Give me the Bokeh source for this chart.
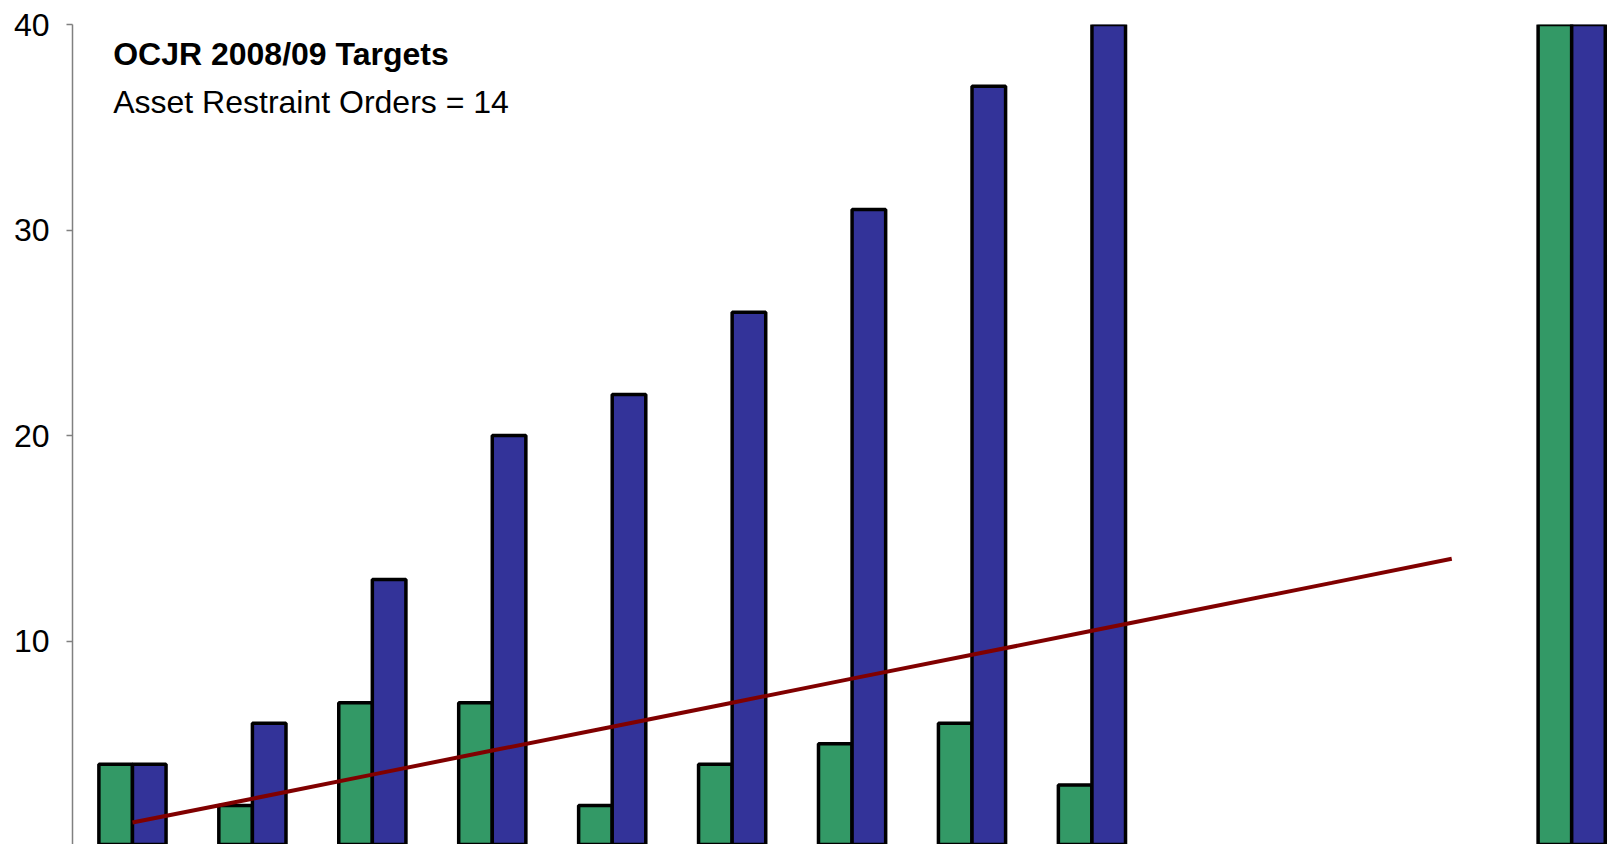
import math
from bokeh.plotting import figure
from bokeh.models import Range1d, Label, FixedTicker, ColumnDataSource
from bokeh.transform import dodge
from bokeh.core.properties import value
from bokeh.embed import file_html
from bokeh.resources import INLINE

# ---- data ----
categories = ["Apr", "May", "Jun", "Jul", "Aug", "Sep", "Oct", "Nov", "Dec",
              "Jan", "Feb", "Mar", "Total"]
monthly_orders = [4, 2, 7, 7, 2, 4, 5, 6, 3, None, None, None, 40]
cumulative_orders = [4, 6, 13, 20, 22, 26, 31, 37, 40, None, None, None, 40]
target_line = [1.17, 2.33, 3.5, 4.67, 5.83, 7.0, 8.17, 9.33, 10.5, 11.67, 12.83, 14.0, None]
y_ticks = [0, 10, 20, 30, 40]
title_text = "OCJR 2008/09 Targets"
subtitle_text = "Asset Restraint Orders = 14"

FONT = "Liberation Sans"
FSIZE = "32px"
GREEN = "#339966"
BLUE = "#333399"
RED = "#800000"

def nan(v):
    return float("nan") if v is None else v

xs = [i + 0.5 for i in range(len(categories))]
bar_src = ColumnDataSource(dict(
    x=xs,
    cat=categories,
    monthly=[nan(v) for v in monthly_orders],
    cumulative=[nan(v) for v in cumulative_orders],
))
line_x = [x for x, t in zip(xs, target_line) if t is not None]
line_y = [t for t in target_line if t is not None]

p = figure(width=1620, height=844,
           x_range=Range1d(0, 12.907), y_range=Range1d(0.1, 40),
           output_backend="svg", toolbar_location=None,
           x_axis_location=None,
           min_border_left=72, min_border_right=0,
           min_border_top=24, min_border_bottom=0)
p.grid.visible = False
p.outline_line_color = None
p.background_fill_color = "white"
p.border_fill_color = "white"

bar_w = 0.28
p.vbar(x=dodge("x", -bar_w / 2, range=p.x_range), top="monthly", bottom=0,
       width=bar_w, source=bar_src, fill_color=GREEN,
       line_color="black", line_width=3.5)
p.vbar(x=dodge("x", bar_w / 2, range=p.x_range), top="cumulative", bottom=0,
       width=bar_w, source=bar_src, fill_color=BLUE,
       line_color="black", line_width=3.5)
p.line(line_x, line_y, line_color=RED, line_width=4)

ax = p.yaxis[0]
ax.ticker = FixedTicker(ticks=y_ticks)
ax.axis_line_color = "#808080"
ax.axis_line_width = 1.5
ax.major_tick_line_color = "#808080"
ax.major_tick_line_width = 1.5
ax.major_tick_out = 6
ax.major_tick_in = 0
ax.minor_tick_line_color = None
ax.major_label_standoff = 17
ax.major_label_text_font = FONT
ax.major_label_text_font_size = FSIZE
ax.major_label_text_color = "black"

# "0" tick label sits just below the visible area
zero_lbl = Label(x=-0.19, y=0, text=str(y_ticks[0]), text_align="right",
                 text_baseline="middle", text_font=FONT,
                 text_font_size=FSIZE, text_color="black")
p.add_layout(zero_lbl)

p.add_layout(Label(x=0.339, y=38.55, text=title_text, text_align="left",
                   text_baseline="middle", text_font=FONT,
                   text_font_style="bold", text_font_size=FSIZE,
                   text_color="black"))
p.add_layout(Label(x=0.339, y=36.23, text=subtitle_text, text_align="left",
                   text_baseline="middle", text_font=FONT,
                   text_font_size=FSIZE, text_color="black"))

open("out.html", "w").write(file_html(p, INLINE))
